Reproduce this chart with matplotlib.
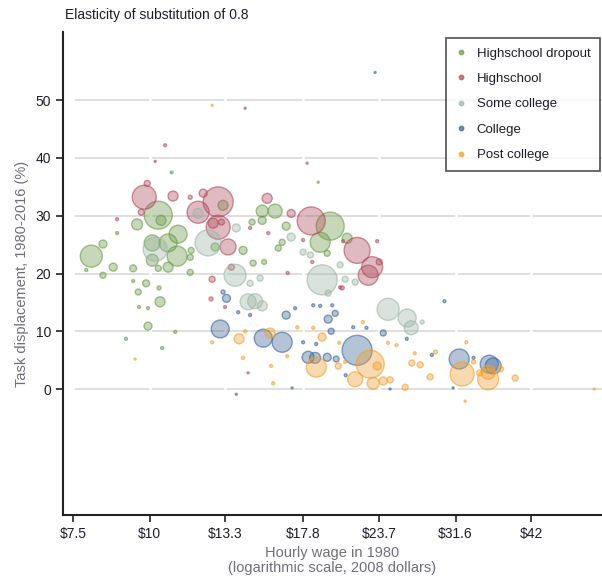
import numpy as np
import matplotlib
matplotlib.use("Agg")
import matplotlib.pyplot as plt
from matplotlib.lines import Line2D

plt.rcParams['font.family'] = ['Liberation Sans', 'DejaVu Sans']

# hourly wage 1980 (2008 $), task displacement 1980-2016 (%), employment weight
hsd_wage = [8.03, 10.33, 9.54, 11.13, 10.10, 10.72, 11.09, 10.10, 10.44, 8.39,
            8.72, 8.39, 9.40, 10.72, 11.65, 11.69, 11.65, 10.33, 9.87, 9.58,
            10.40, 9.61, 9.94, 9.94, 10.36, 9.15, 10.48, 11.01, 7.88, 8.85,
            9.40, 15.27, 16.03, 15.27, 19.72, 18.99, 21.02, 14.21, 16.22, 16.46,
            16.71, 14.70, 12.79, 19.50, 14.76, 15.38, 13.18, 10.84, 18.85]
hsd_disp = [23.0, 30.1, 28.5, 26.8, 25.3, 25.3, 23.0, 22.3, 29.2, 25.1,
            21.1, 19.7, 20.9, 21.1, 22.8, 24.0, 20.2, 20.9, 18.3, 16.8,
            15.1, 14.2, 14.0, 10.9, 17.5, 8.7, 7.1, 9.9, 20.6, 27.0,
            18.7, 30.8, 30.8, 29.2, 28.2, 25.4, 26.1, 24.0, 24.4, 25.4,
            28.2, 28.9, 24.6, 23.5, 21.8, 22.0, 31.8, 37.5, 35.8]
hsd_emp = [121, 196, 30, 81, 64, 81, 100, 36, 25, 16,
           16, 9, 12, 25, 9, 9, 9, 9, 12, 9,
           25, 2.2, 2.2, 16, 4, 2.2, 2.2, 2.2, 2.2, 2.2,
           2.2, 36, 49, 16, 196, 100, 25, 16, 9, 9,
           16, 9, 16, 9, 9, 6, 25, 1, 1]

hs_wage = [9.80, 9.91, 10.92, 9.69, 12.00, 12.94, 12.23, 12.94, 13.43, 12.70,
           11.65, 17.03, 15.56, 12.65, 12.60, 21.82, 23.09, 22.75, 23.71, 23.53,
           20.70, 18.36, 10.60, 10.21, 18.08, 14.32, 13.10, 14.59, 15.62, 17.81,
           20.47, 13.60, 13.28, 14.48, 16.80, 18.43, 20.63, 8.85]
hs_disp = [33.2, 35.6, 33.4, 30.6, 30.6, 32.4, 33.9, 28.0, 24.6, 28.7,
           33.2, 30.4, 33.0, 19.0, 15.6, 24.0, 21.1, 19.7, 22.0, 25.6,
           25.6, 29.1, 42.2, 39.4, 39.1, 48.6, 28.9, 27.9, 27.0, 25.8,
           17.6, 21.1, 14.2, 2.8, 20.1, 22.0, 17.5, 29.4]
hs_emp = [144, 9, 25, 9, 121, 225, 16, 144, 64, 25,
          4, 16, 25, 9, 4, 169, 110, 100, 9, 2.2,
          2.2, 196, 2.2, 1, 1, 1, 9, 2.2, 2.2, 2.2,
          2.2, 9, 2.2, 1, 2.2, 2.2, 4, 2.2]

sc_wage = [12.46, 10.21, 13.79, 14.48, 14.87, 15.27, 15.15, 14.59, 17.03, 13.85,
           19.13, 17.81, 20.47, 20.86, 21.66, 19.57, 24.52, 26.34, 26.74, 27.87,
           12.00, 18.30, 10.88]
sc_disp = [25.3, 24.2, 19.7, 15.1, 15.2, 14.4, 19.2, 18.3, 26.3, 27.9,
           18.9, 23.7, 21.5, 19.0, 18.5, 16.6, 13.8, 12.3, 10.6, 11.6,
           30.4, 23.2, 37.5]
sc_emp = [169, 144, 121, 64, 56, 25, 9, 9, 16, 16,
          225, 9, 9, 9, 9, 9, 121, 81, 49, 4,
          25, 9, 2.2]

col_wage = [13.04, 15.33, 16.46, 16.71, 13.35, 19.57, 20.09, 19.79, 18.15, 18.63,
            19.50, 20.17, 21.82, 24.07, 32.03, 35.86, 36.40, 17.09, 13.85, 18.50,
            19.87, 17.28, 23.35, 30.30, 17.81, 18.71, 21.50, 22.60, 26.30, 28.90,
            33.80, 31.30, 24.70, 20.90, 13.18, 13.95, 14.59, 18.99]
col_disp = [10.4, 8.8, 8.1, 12.8, 15.7, 12.1, 13.1, 10.0, 5.5, 5.4,
            5.5, 5.2, 6.7, 9.7, 5.2, 4.3, 4.0, 0.2, -0.9, 14.5,
            14.5, 14.0, 54.8, 15.2, 8.1, 7.8, 10.7, 10.6, 8.7, 5.9,
            5.4, 0.2, 0.0, 2.4, 16.8, 13.3, 12.8, 14.4]
col_emp = [81, 81, 100, 16, 16, 16, 9, 9, 36, 30,
           16, 9, 225, 9, 100, 81, 64, 1, 1, 2.2,
           2.2, 2.2, 1, 2.2, 2.2, 2.2, 2.2, 2.2, 2.2, 2.2,
           2.2, 1, 1, 2.2, 4, 2.2, 2.2, 2.2]

pc_wage = [14.00, 15.73, 18.71, 20.32, 22.92, 21.66, 23.18, 24.07, 23.53, 24.71,
           32.39, 35.72, 35.72, 39.54, 27.66, 28.72, 26.14, 20.86, 9.47, 14.21,
           17.42, 15.79, 15.91, 16.77, 14.32, 12.65, 32.76, 53.22, 12.65, 18.50,
           19.13, 20.40, 22.30, 24.50, 25.30, 27.10, 29.30, 32.90, 33.80, 34.60,
           37.40, 26.80]
pc_disp = [8.7, 9.7, 3.8, 4.0, 4.3, 1.7, 1.0, 1.4, 4.0, 1.6,
           2.6, 1.7, 2.9, 1.9, 4.2, 2.1, 0.3, 4.7, 5.2, 5.4,
           10.7, 4.0, 1.0, 5.7, 10.0, 8.1, -2.1, 0.0, 49.1, 10.6,
           9.0, 8.0, 11.6, 8.0, 7.6, 6.2, 6.4, 8.1, 4.7, 2.8,
           3.5, 4.5]
pc_emp = [25, 25, 100, 9, 196, 56, 36, 16, 16, 9,
          144, 110, 49, 9, 9, 9, 9, 2.2, 1, 2.2,
          2.2, 2.2, 2.2, 2.2, 2.2, 2.2, 1, 1, 1, 2.2,
          16, 2.2, 2.2, 2.2, 2.2, 2.2, 4, 2.2, 4, 9,
          9, 9]

groups = ['Highschool dropout', 'Highschool', 'Some college', 'College', 'Post college']
colors = ['#6a9a48', '#b04a5c', '#9db5a6', '#3d6394', '#f0a030']
series = [(hsd_wage, hsd_disp, hsd_emp), (hs_wage, hs_disp, hs_emp),
          (sc_wage, sc_disp, sc_emp), (col_wage, col_disp, col_emp),
          (pc_wage, pc_disp, pc_emp)]

x_ticks = [7.5, 10, 13.3, 17.8, 23.7, 31.6, 42]
x_labels = ['$7.5', '$10', '$13.3', '$17.8', '$23.7', '$31.6', '$42']
y_ticks = [0, 10, 20, 30, 40, 50]

fig = plt.figure(figsize=(6.02, 5.81), dpi=100)
ax = fig.add_axes([63 / 602, 66 / 581, 539 / 602, 483 / 581])
ax.set_xscale('log')
ax.set_xlim(7.22, 54.8)
ax.set_ylim(-21.8, 61.8)

# horizontal grid with small white breaks at the wage ticks
ax.hlines(y_ticks, 7.5, 54.8, color='#dcdcdc', lw=1.3, zorder=0.5)
for xt in x_ticks:
    ax.axvline(xt, color='white', lw=1.8, zorder=0.6)

for (w, d, e), c in zip(series, colors):
    s = np.array(e) * 2.07
    rgb = matplotlib.colors.to_rgb(c)
    ax.scatter(w, d, s=s, facecolor=(*rgb, 0.38), edgecolor=(*rgb, 0.6),
               linewidth=1.0, zorder=2)

ax.set_xticks(x_ticks)
ax.set_xticklabels(x_labels)
ax.xaxis.set_minor_locator(matplotlib.ticker.NullLocator())
ax.set_yticks(y_ticks)
ax.tick_params(axis='both', direction='out', length=5, width=1.2,
               labelsize=10, labelcolor='#1c1c2c', color='#222222')
for side in ['top', 'right']:
    ax.spines[side].set_visible(False)
for side in ['left', 'bottom']:
    ax.spines[side].set_linewidth(1.5)
    ax.spines[side].set_color('#222222')

ax.set_xlabel('Hourly wage in 1980\n(logarithmic scale, 2008 dollars)',
              fontsize=10.5, color='#6e6e78', linespacing=1.1, labelpad=4)
ax.set_ylabel('Task displacement, 1980-2016 (%)', fontsize=10.5,
              color='#6e6e78', labelpad=5)
fig.text(65 / 602, 1 - 15 / 581, 'Elasticity of substitution of 0.8',
         fontsize=10, ha='left', va='center', color='#1c1c2c')

handles = [Line2D([], [], ls='none', marker='o', markersize=3.2,
                  markerfacecolor=c, markeredgecolor=c, alpha=0.7)
           for c in colors]
leg = ax.legend(handles, groups, loc='upper right', bbox_to_anchor=(0.996, 0.988),
                borderaxespad=0, fontsize=9.5, frameon=True, fancybox=False,
                labelspacing=1.0, handlelength=0.8, handletextpad=0.8,
                borderpad=0.72, edgecolor='#222222')
leg.get_frame().set_linewidth(1.2)
for t in leg.get_texts():
    t.set_color('#1c1c2c')

fig.savefig('out.png', dpi=100)
